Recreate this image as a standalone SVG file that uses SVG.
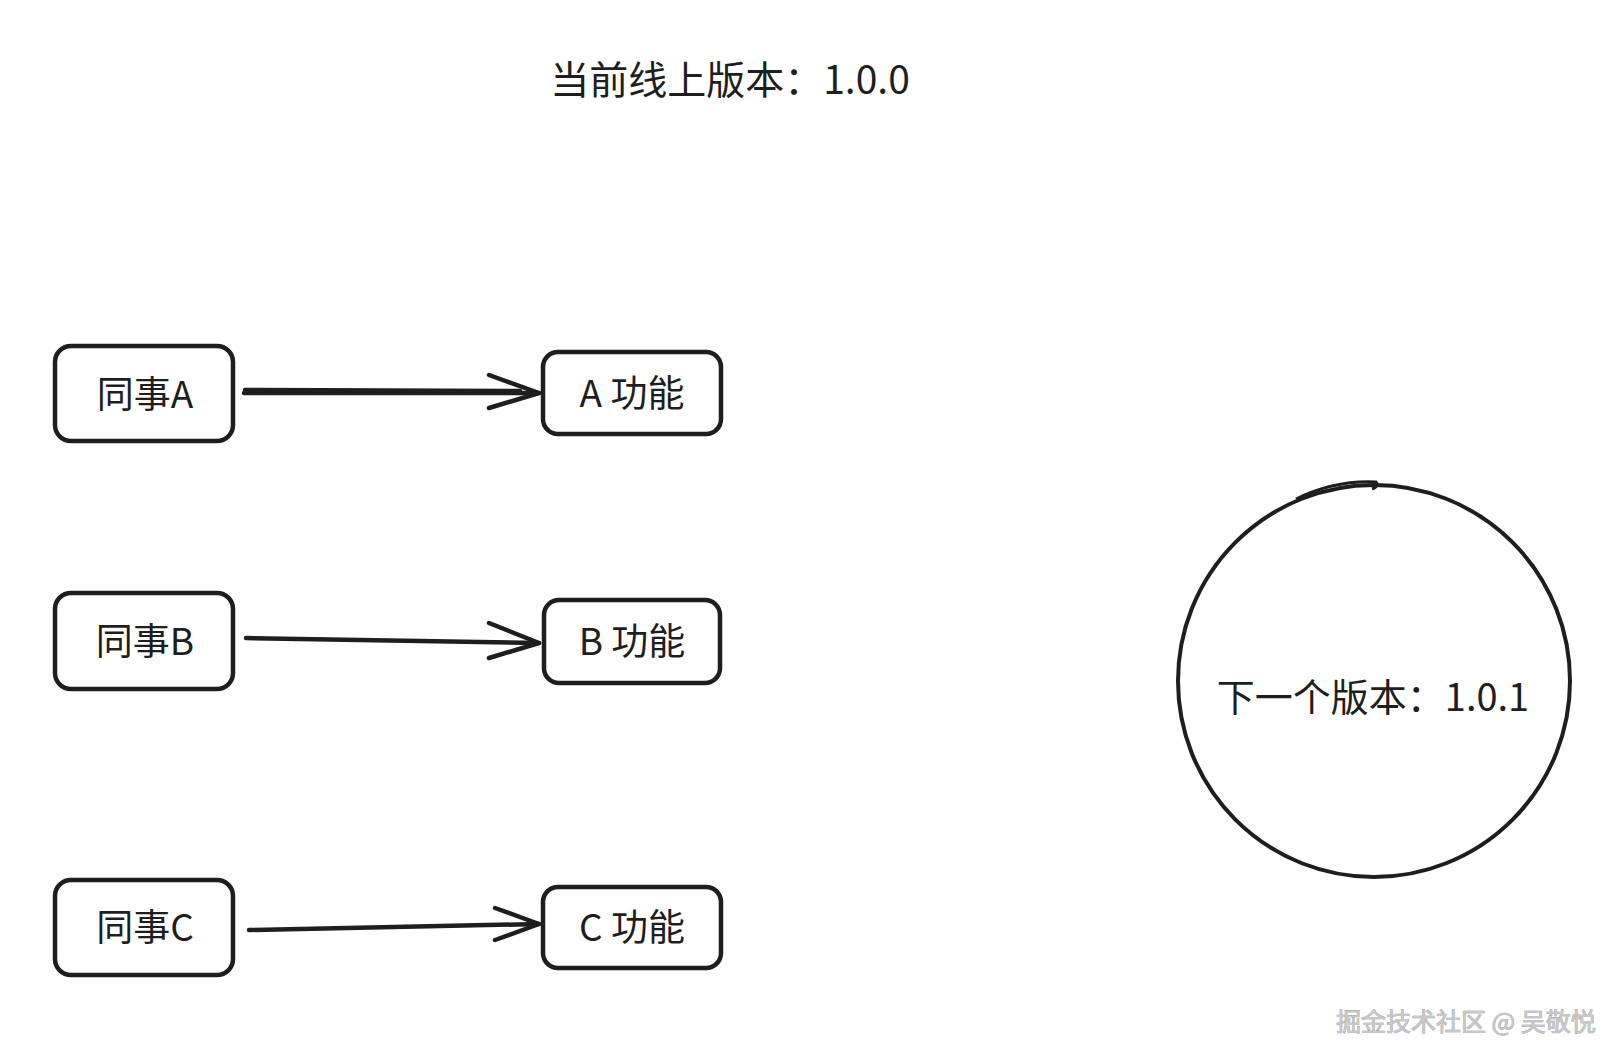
<svg xmlns="http://www.w3.org/2000/svg" width="1624" height="1064" viewBox="0 0 1624 1064">
<style>
.box{fill:#fff;stroke:#1e1e1e;stroke-width:4.5;stroke-linejoin:round}
.t{font-family:"Noto Sans CJK SC","Noto Sans",sans-serif;fill:#1e1e1e;text-anchor:middle;dominant-baseline:central}
.lbl{font-size:37px}
.conn{fill:none;stroke:#1e1e1e;stroke-width:4.5;stroke-linecap:round;stroke-linejoin:round}
.wm{font-family:"Noto Sans CJK SC",sans-serif;font-size:25px;fill:#c8c8c8;stroke:#8a8a8a;stroke-width:0.6;paint-order:stroke}
</style>
<rect width="1624" height="1064" fill="#fff"/>
<g id="title"><text class="t" x="730" y="77" font-size="39">当前线上版本：1.0.0</text></g>
<g id="nodeA"><rect class="box" x="55" y="346" width="178" height="95" rx="16"/><text class="t lbl" x="145" y="392">同事A</text></g>
<g id="featA"><rect class="box" x="543" y="352" width="178" height="82" rx="15"/><text class="t lbl" x="632" y="391">A 功能</text></g>
<g id="nodeB"><rect class="box" x="55" y="593" width="178" height="96" rx="16"/><text class="t lbl" x="145" y="639">同事B</text></g>
<g id="featB"><rect class="box" x="544" y="600" width="176" height="83" rx="15"/><text class="t lbl" x="632" y="639">B 功能</text></g>
<g id="nodeC"><rect class="box" x="55" y="880" width="178" height="95" rx="16"/><text class="t lbl" x="145" y="925">同事C</text></g>
<g id="featC"><rect class="box" x="543" y="887" width="178" height="81" rx="15"/><text class="t lbl" x="632" y="925">C 功能</text></g>
<g id="next"><circle cx="1374" cy="681" r="196" fill="none" stroke="#1e1e1e" stroke-width="4"/><path d="M1296 499 Q1335 480 1376 482 Q1380 486 1372 489" fill="none" stroke="#1e1e1e" stroke-width="3"/><text class="t" x="1373" y="694" font-size="38">下一个版本：1.0.1</text></g>
<g id="connectors">
<path class="conn" d="M244 393 L539 393 M245 390 L520 391"/>
<path class="conn" d="M489 375 L539 393 L489 408"/>
<path class="conn" d="M246 638 L539 643"/>
<path class="conn" d="M489 623 L539 643 L489 658"/>
<path class="conn" d="M249 930 L539 924"/>
<path class="conn" d="M495 908 L539 924 L495 940"/>
</g>
<g id="watermark"><text class="wm" x="1336" y="1031">掘金技术社区 @ 吴敬悦</text></g>
</svg>
